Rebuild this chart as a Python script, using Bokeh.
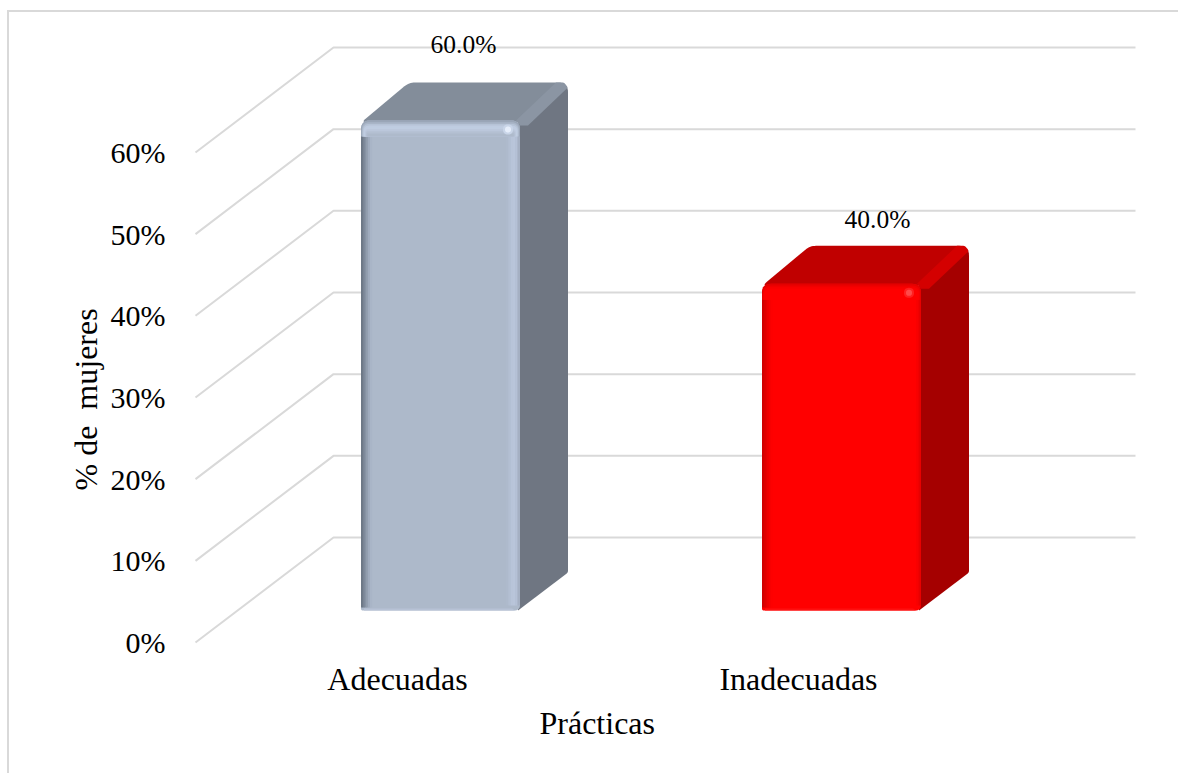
from bokeh.plotting import figure
from bokeh.models import Range1d, FixedTicker, Title, ColumnDataSource
from bokeh.core.properties import value
from bokeh.embed import file_html
from bokeh.resources import INLINE
import math

# ---- data ----
categories = ["Adecuadas", "Inadecuadas"]
percentages = [60.0, 40.0]
data_labels = ["60.0%", "40.0%"]
y_ticks = [0, 10, 20, 30, 40, 50, 60]
y_tick_labels = ["0%", "10%", "20%", "30%", "40%", "50%", "60%"]
x_title = "Prácticas"
y_title = "% de \u00a0mujeres"

# ---- geometry (pixels per data unit and 3-D projection) ----
PX_PER_CAT = 401.0
PX_PER_PCT = 8.167
CAT0_SX, ZERO_SY = 397.0, 642.0
PX, PY = 1 / PX_PER_CAT, 1 / PX_PER_PCT
WALL_DX, WALL_DY = 138 * PX, 105 * PY
BAR_OFF_X, BAR_OFF_Y = 43 * PX, 32 * PY
BAR_W, DEPTH_X, DEPTH_Y = 159, 48, 38
FONT = value("Liberation Serif")
GRID = "#d9d9d9"
WIDTH, HEIGHT = 1178, 773

def sx2d(sx):
    return (sx - CAT0_SX) / PX_PER_CAT

def sy2d(sy):
    return (ZERO_SY - sy) / PX_PER_PCT

line = f"linear-gradient({GRID},{GRID})"
p = figure(width=WIDTH, height=HEIGHT, output_backend="svg", toolbar_location=None,
           x_range=Range1d(sx2d(192), sx2d(WIDTH)), y_range=Range1d(sy2d(645), sy2d(0)),
           min_border_left=192, min_border_right=0, min_border_top=0, min_border_bottom=HEIGHT - 645,
           outline_line_color=None, background_fill_color=None, border_fill_color=None,
           styles={"background": f"{line} 8px 10px/100% 2px no-repeat, {line} 7px 10px/2px 100% no-repeat, #ffffff"})
p.grid.visible = False

# axes
p.yaxis.ticker = FixedTicker(ticks=y_ticks)
p.yaxis.major_label_overrides = dict(zip(y_ticks, y_tick_labels))
p.xaxis.ticker = FixedTicker(ticks=list(range(len(categories))))
p.xaxis.major_label_overrides = dict(enumerate(categories))
for ax, size, standoff in ((p.yaxis, "30px", 21), (p.xaxis, "32px", 9)):
    ax.axis_line_color = None
    ax.major_tick_line_color = None
    ax.minor_tick_line_color = None
    ax.major_label_text_font = "Liberation Serif"
    ax.major_label_text_font_size = size
    ax.major_label_text_color = "#000000"
    ax.major_label_standoff = standoff

# walls and floor-to-back grid lines
x_left = sx2d(195)
xs, ys = [], []
for t in y_ticks:
    xs.append([x_left, x_left + WALL_DX, x_left + WALL_DX + 2.0])
    ys.append([t, t + WALL_DY, t + WALL_DY])
p.multi_line(xs, ys, line_color=GRID, line_width=2)


def rounded(points, radii):
    out = []
    n = len(points)
    for k, ((x, y), r) in enumerate(zip(points, radii)):
        if r == 0:
            out.append((x, y))
            continue
        x0, y0 = points[k - 1]
        x1, y1 = points[(k + 1) % n]
        l0 = math.hypot(x0 - x, y0 - y)
        l1 = math.hypot(x1 - x, y1 - y)
        a = (x + (x0 - x) * r / l0, y + (y0 - y) * r / l0)
        b = (x + (x1 - x) * r / l1, y + (y1 - y) * r / l1)
        for s in range(9):
            t = s / 8
            out.append(((1 - t) ** 2 * a[0] + 2 * t * (1 - t) * x + t * t * b[0],
                        (1 - t) ** 2 * a[1] + 2 * t * (1 - t) * y + t * t * b[1]))
    return out


STYLES = [
    dict(base="#adb9ca", side="#6f7682", top="#838d9a", diag="#8b95a3", glow=["#c9d5e8", "#e6eefb"],
         left=["#6d7886", "#7a8595", "#8793a3", "#939fb0", "#a0acbe", "#a9b5c7"],
         upper=["#9aa6b7", "#a9b5c7", "#b6c3d6", "#bfcce0", "#c0cde1", "#bcc8dc", "#b6c2d5", "#b1bdcf", "#aebacb"],
         right=["#aebacc", "#b3bfd2", "#b8c4d9", "#b9c5da", "#b5c1d6", "#a5b0c3"],
         lower="#b7c2d5"),
    dict(base="#ff0000", side="#a50000", top="#c00000", diag="#d40000", glow=["#ff2020", "#ff4a4a"],
         left=["#d00000", "#dc0000", "#e60000", "#f00000", "#f80000", "#fd0000"],
         upper=["#e40000", "#f20000", "#fb0000", "#ff0000", "#ff0000", "#ff0000", "#ff0000", "#ff0000", "#ff0000"],
         right=["#ff0000", "#ff0000", "#ff0000", "#ff0000", "#f80000", "#e80000"],
         lower="#ff1010"),
]

px_polys, py_polys, colors = [], [], []

for i, (v, st) in enumerate(zip(percentages, STYLES)):
    xl = i + BAR_OFF_X - BAR_W / 2 * PX
    yb = BAR_OFF_Y
    W = BAR_W
    H = v / PY

    def add(pts, radii, color):
        r = rounded(pts, radii)
        px_polys.append([xl + a * PX for a, _ in r])
        py_polys.append([yb + b * PY for _, b in r])
        colors.append(color)

    DX, DY = DEPTH_X, DEPTH_Y
    add([(W - 2, 0), (W + DX, DY), (W + DX, H + DY), (W - 2, H)], [0, 2, 10, 0], st["side"])
    add([(0, H - 2), (DX, H + DY), (W + DX, H + DY), (W, H - 2)], [6, 6, 10, 0], st["top"])
    add([(W - 4, H), (W + DX - 12, H + DY), (W + DX - 4, H + DY), (W + DX, H + DY - 5),
         (W + 8, H - 5), (W, H - 5)], [0, 0, 2, 2, 0, 0], st["diag"])
    add([(0, 0), (0, H), (W, H), (W, 0)], [2, 9, 9, 6], st["base"])
    for k, c in enumerate(st["right"]):
        u = W - 14 + k * 2.3
        add([(u, 5), (u, H - 9), (u + 2.5, H - 9), (u + 2.5, 5)], [0, 0, 0, 0], c)
    for k, c in enumerate(st["left"]):
        u = k * 1.8
        add([(u, 3), (u, H - 8), (u + 2.2, H - 8), (u + 2.2, 3)], [0, 0, 0, 0], c)
    for ins, c in enumerate(st["upper"]):
        add([(ins * .8, H - 16), (ins * .8, H - ins * 1.7), (W - ins * .8, H - ins * 1.7),
             (W - ins * .8, H - 16)], [0, max(9 - ins, 2), max(9 - ins, 2), 0], c)
    add([(3, 0), (3, 2), (W - 8, 2), (W - 5, 0)], [0, 0, 0, 0], st["lower"])
    add([(W - 17, H - 14), (W - 17, H - 4), (W - 7, H - 4), (W - 7, H - 14)], [5, 5, 5, 5], st["glow"][0])
    add([(W - 15, H - 12), (W - 15, H - 6), (W - 9, H - 6), (W - 9, H - 12)], [3, 3, 3, 3], st["glow"][1])

p.patches(px_polys, py_polys, fill_color=colors, line_color=None)

# value labels above each bar
label_src = ColumnDataSource(dict(
    x=[i + BAR_OFF_X + DEPTH_X * PX for i in range(len(categories))],
    y=[v + BAR_OFF_Y + DEPTH_Y * PY for v in percentages],
    text=data_labels,
    x_off=[-25, -12],
    y_off=[-38, -26],
))
p.text(x="x", y="y", text="text", x_offset="x_off", y_offset="y_off", source=label_src,
       text_font=FONT, text_font_size="25.5px", text_align="center", text_baseline="middle",
       text_color="#000000")

# axis titles as side-panel titles, so that they can sit off the frame's centre
p.add_layout(Title(text=x_title, align="left", offset=347, standoff=6,
                   text_font="Liberation Serif", text_font_size="32px", text_font_style="normal",
                   text_color="#000000"), "below")
p.add_layout(Title(text=y_title, align="left", offset=155, standoff=8,
                   text_font="Liberation Serif", text_font_size="32px", text_font_style="normal",
                   text_color="#000000"), "left")

open("out.html", "w").write(file_html(p, INLINE))
